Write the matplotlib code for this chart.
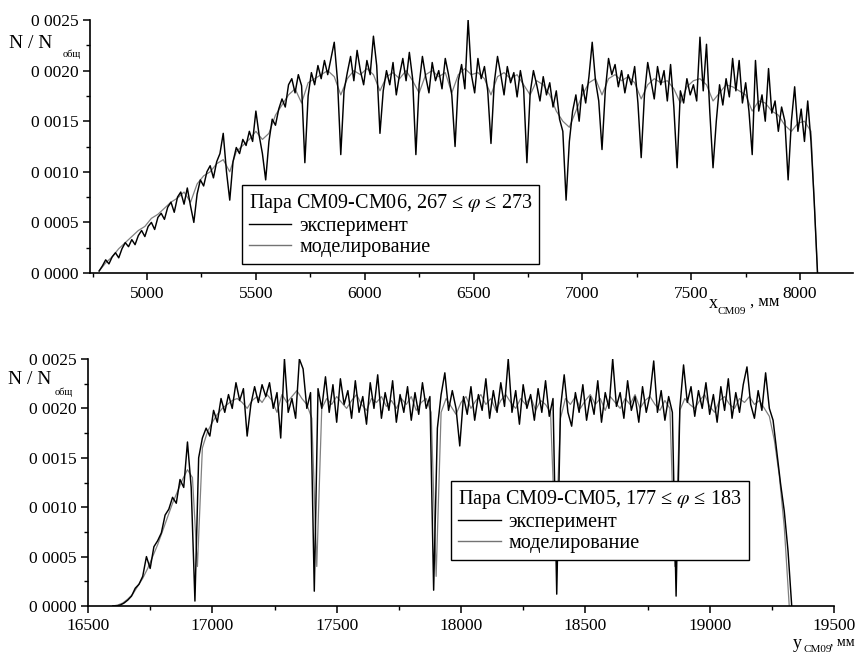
import numpy as np
import matplotlib
matplotlib.use("Agg")
import matplotlib.pyplot as plt
from matplotlib.lines import Line2D
from matplotlib.ticker import MultipleLocator, FixedLocator, FixedFormatter

plt.rcParams["font.family"] = "Liberation Serif"
plt.rcParams["mathtext.fontset"] = "stix"

### Data: N / N_total, stored in units of 1e-5 ###
# Pair CM09-CM06, scan along x (mm)
x_top_start, x_top_step = 4780, 15
exp_top = [
    2, 7, 13, 9, 16, 20, 15, 24, 30, 26,
    33, 28, 37, 42, 36, 46, 50, 43, 55, 59,
    53, 65, 70, 60, 75, 80, 68, 84, 66, 50,
    78, 92, 86, 100, 106, 94, 110, 118, 138, 100,
    72, 110, 124, 118, 132, 126, 140, 130, 160, 136,
    118, 92, 130, 152, 146, 162, 172, 164, 186, 192,
    178, 196, 185, 109, 175, 198, 186, 205, 192, 210,
    196, 212, 228, 190, 117, 180, 198, 214, 190, 220,
    200, 186, 210, 196, 234, 205, 138, 180, 200, 186,
    208, 176, 196, 212, 190, 218, 192, 117, 186, 214,
    194, 178, 208, 190, 200, 182, 212, 196, 176, 125,
    190, 206, 182, 250, 196, 178, 212, 192, 204, 180,
    128, 188, 214, 196, 176, 204, 188, 198, 174, 200,
    182, 109, 178, 200, 186, 170, 194, 176, 188, 164,
    180, 152, 140, 72, 130, 160, 176, 150, 186, 168,
    194, 228, 190, 170, 122, 180, 212, 196, 206, 184,
    200, 178, 196, 186, 204, 168, 114, 176, 208, 190,
    172, 204, 186, 200, 170, 206, 164, 104, 180, 168,
    192, 176, 186, 170, 233, 180, 226, 160, 104, 150,
    186, 166, 192, 174, 212, 180, 210, 168, 188, 160,
    117, 210, 160, 176, 150, 202, 158, 170, 140, 164,
    150, 92, 150, 184, 140, 162, 130, 170, 130, 70, 0,
]
m_top_start, m_top_step = 4780, 30
model_top = [
    2, 10, 16, 24, 30, 36, 42, 46, 54, 58,
    64, 70, 74, 80, 70, 88, 96, 100, 108, 112,
    100, 120, 126, 132, 140, 132, 138, 156, 166, 176,
    182, 168, 188, 192, 196, 200, 194, 176, 192, 200,
    196, 202, 196, 180, 194, 198, 192, 200, 190, 178,
    196, 200, 194, 198, 178, 196, 202, 196, 198, 192,
    176, 194, 198, 192, 196, 186, 176, 190, 186, 176,
    160, 150, 144, 160, 176, 188, 192, 176, 192, 196,
    190, 194, 188, 172, 186, 192, 188, 190, 182, 168,
    184, 190, 192, 186, 170, 178, 186, 184, 180, 176,
    160, 170, 168, 160, 156, 146, 140, 148, 150, 140,
    0,
]

# Pair CM09-CM05, scan along y (mm)
x_bot_start, x_bot_step = 16600, 15
exp_bot = [
    0, 0, 1, 3, 6, 10, 18, 22, 30, 50,
    38, 60, 66, 74, 92, 98, 110, 104, 128, 120,
    166, 120, 5, 150, 170, 180, 172, 198, 186, 210,
    196, 214, 200, 226, 208, 220, 172, 204, 222, 206,
    224, 212, 226, 200, 216, 170, 250, 196, 210, 190,
    250, 240, 200, 216, 15, 220, 200, 232, 196, 224,
    186, 230, 204, 218, 190, 228, 196, 212, 184, 226,
    200, 234, 190, 216, 198, 228, 186, 214, 196, 222,
    188, 216, 194, 226, 200, 212, 16, 180, 214, 236,
    198, 218, 200, 162, 212, 194, 222, 188, 214, 198,
    230, 190, 218, 196, 226, 202, 250, 196, 218, 184,
    224, 200, 214, 188, 220, 196, 228, 192, 210, 12,
    200, 234, 196, 182, 216, 196, 224, 188, 212, 194,
    228, 186, 216, 200, 250, 202, 216, 190, 228, 198,
    212, 186, 222, 196, 214, 248, 196, 218, 188, 212,
    196, 10, 200, 244, 206, 222, 192, 218, 200, 226,
    194, 214, 186, 222, 198, 230, 190, 216, 196, 224,
    242, 204, 190, 218, 198, 236, 200, 188, 156, 124,
    96, 56, 0,
]
m_bot_start, m_bot_step = 16600, 20
model_bot = [
    0, 1, 3, 7, 12, 20, 28, 38, 50, 62,
    76, 90, 104, 116, 128, 138, 130, 40, 160, 176,
    186, 194, 200, 204, 208, 210, 206, 200, 208, 212,
    206, 214, 208, 196, 214, 206, 212, 218, 210, 204,
    190, 40, 200, 210, 204, 212, 206, 200, 208, 214,
    204, 198, 210, 206, 212, 202, 208, 200, 210, 204,
    212, 198, 206, 210, 196, 30, 196, 210, 202, 194,
    206, 212, 200, 208, 214, 204, 210, 198, 208, 214,
    206, 200, 210, 204, 212, 198, 208, 204, 196, 60,
    190, 210, 204, 212, 200, 208, 214, 204, 210, 198,
    212, 206, 200, 210, 204, 214, 200, 208, 212, 204,
    198, 208, 200, 40, 198, 210, 204, 200, 208, 214,
    202, 196, 208, 212, 204, 200, 210, 206, 212, 204,
    208, 200, 192, 168, 132, 80, 0,
]

y_ticks = [0.0, 0.0005, 0.0010, 0.0015, 0.0020, 0.0025]
y_tick_labels = ["0 0000", "0 0005", "0 0010", "0 0015", "0 0020", "0 0025"]
top_xticks = [5000, 5500, 6000, 6500, 7000, 7500, 8000]
bot_xticks = [16500, 17000, 17500, 18000, 18500, 19000, 19500]

legend_labels = ["эксперимент", "моделирование"]
top_title = r"Пара CM09-CM06, 267 ≤ $\varphi$ ≤ 273"
bot_title = r"Пара CM09-CM05, 177 ≤ $\varphi$ ≤ 183"


def series(start, step, vals):
    v = np.asarray(vals, dtype=float) * 1e-5
    return start + step * np.arange(len(v)), v


W, H = 859, 655


def fxy(px, py):
    # pixel position -> figure fraction
    return px / W, 1 - py / H


fig = plt.figure(figsize=(W / 100, H / 100), dpi=100)
ax1 = fig.add_axes([90 / W, 1 - 273 / H, 763 / W, 253 / H])
ax2 = fig.add_axes([88 / W, 1 - 606 / H, 746 / W, 247 / H])


def style_axes(ax, xlim, xticks):
    for side in ("top", "right"):
        ax.spines[side].set_visible(False)
    for side in ("left", "bottom"):
        ax.spines[side].set_linewidth(1.2)
    ax.set_xlim(*xlim)
    ax.set_ylim(0, 0.0025)
    ax.xaxis.set_major_locator(FixedLocator(xticks))
    ax.xaxis.set_minor_locator(MultipleLocator(250))
    ax.yaxis.set_major_locator(FixedLocator(y_ticks))
    ax.yaxis.set_major_formatter(FixedFormatter(y_tick_labels))
    ax.yaxis.set_minor_locator(MultipleLocator(0.00025))
    ax.tick_params(which="major", direction="out", length=5, width=1.1, labelsize=12.5)
    ax.tick_params(which="minor", direction="out", length=3, width=1)
    ax.tick_params(axis="y", pad=3)
    ax.tick_params(axis="x", pad=4)


style_axes(ax1, (4738, 8243), top_xticks)
style_axes(ax2, (16500, 19500), bot_xticks)

# Curves: modelling (grey) under experiment (black)
for ax, (ms, mstep, mv), (es, estep, ev) in [
    (ax1, (m_top_start, m_top_step, model_top), (x_top_start, x_top_step, exp_top)),
    (ax2, (m_bot_start, m_bot_step, model_bot), (x_bot_start, x_bot_step, exp_bot)),
]:
    xm, ym = series(ms, mstep, mv)
    xe, ye = series(es, estep, ev)
    ax.plot(xm, ym, color="0.5", lw=0.9, zorder=2)
    ax.plot(xe, ye, color="black", lw=1.05, zorder=3)

# Legends
handles = [Line2D([], [], color="black", lw=1), Line2D([], [], color="0.45", lw=1)]
for ax, title, anchor in [(ax1, top_title, (0.199, 0.348)), (ax2, bot_title, (0.487, 0.506))]:
    leg = ax.legend(handles, legend_labels, title=title, loc="upper left",
                    bbox_to_anchor=anchor, fontsize=14.5, title_fontsize=14.5,
                    frameon=True, fancybox=False, framealpha=1, edgecolor="black",
                    handlelength=2.1, handletextpad=0.4, labelspacing=0.1,
                    borderpad=0.35, borderaxespad=0, alignment="left")
    leg.get_frame().set_linewidth(1.0)
    leg.set_zorder(5)

# Axis labels
fig.text(*fxy(9, 44), "N / N", ha="left", va="center", fontsize=14)
fig.text(*fxy(63, 54), "общ", ha="left", va="center", fontsize=7.5)
fig.text(*fxy(8, 379), "N / N", ha="left", va="center", fontsize=14)
fig.text(*fxy(55, 392), "общ", ha="left", va="center", fontsize=7.5)

fig.text(*fxy(709, 304), "x", ha="left", va="center", fontsize=13)
fig.text(*fxy(718, 311), "CM09", ha="left", va="center", fontsize=8)
fig.text(*fxy(750, 302), ", мм", ha="left", va="center", fontsize=12)

fig.text(*fxy(793, 643), "y", ha="left", va="center", fontsize=13)
fig.text(*fxy(803, 649), "CM09", ha="left", va="center", fontsize=8)
fig.text(*fxy(830, 642), ", мм", ha="left", va="center", fontsize=10)

fig.savefig("out.png", dpi=100)
